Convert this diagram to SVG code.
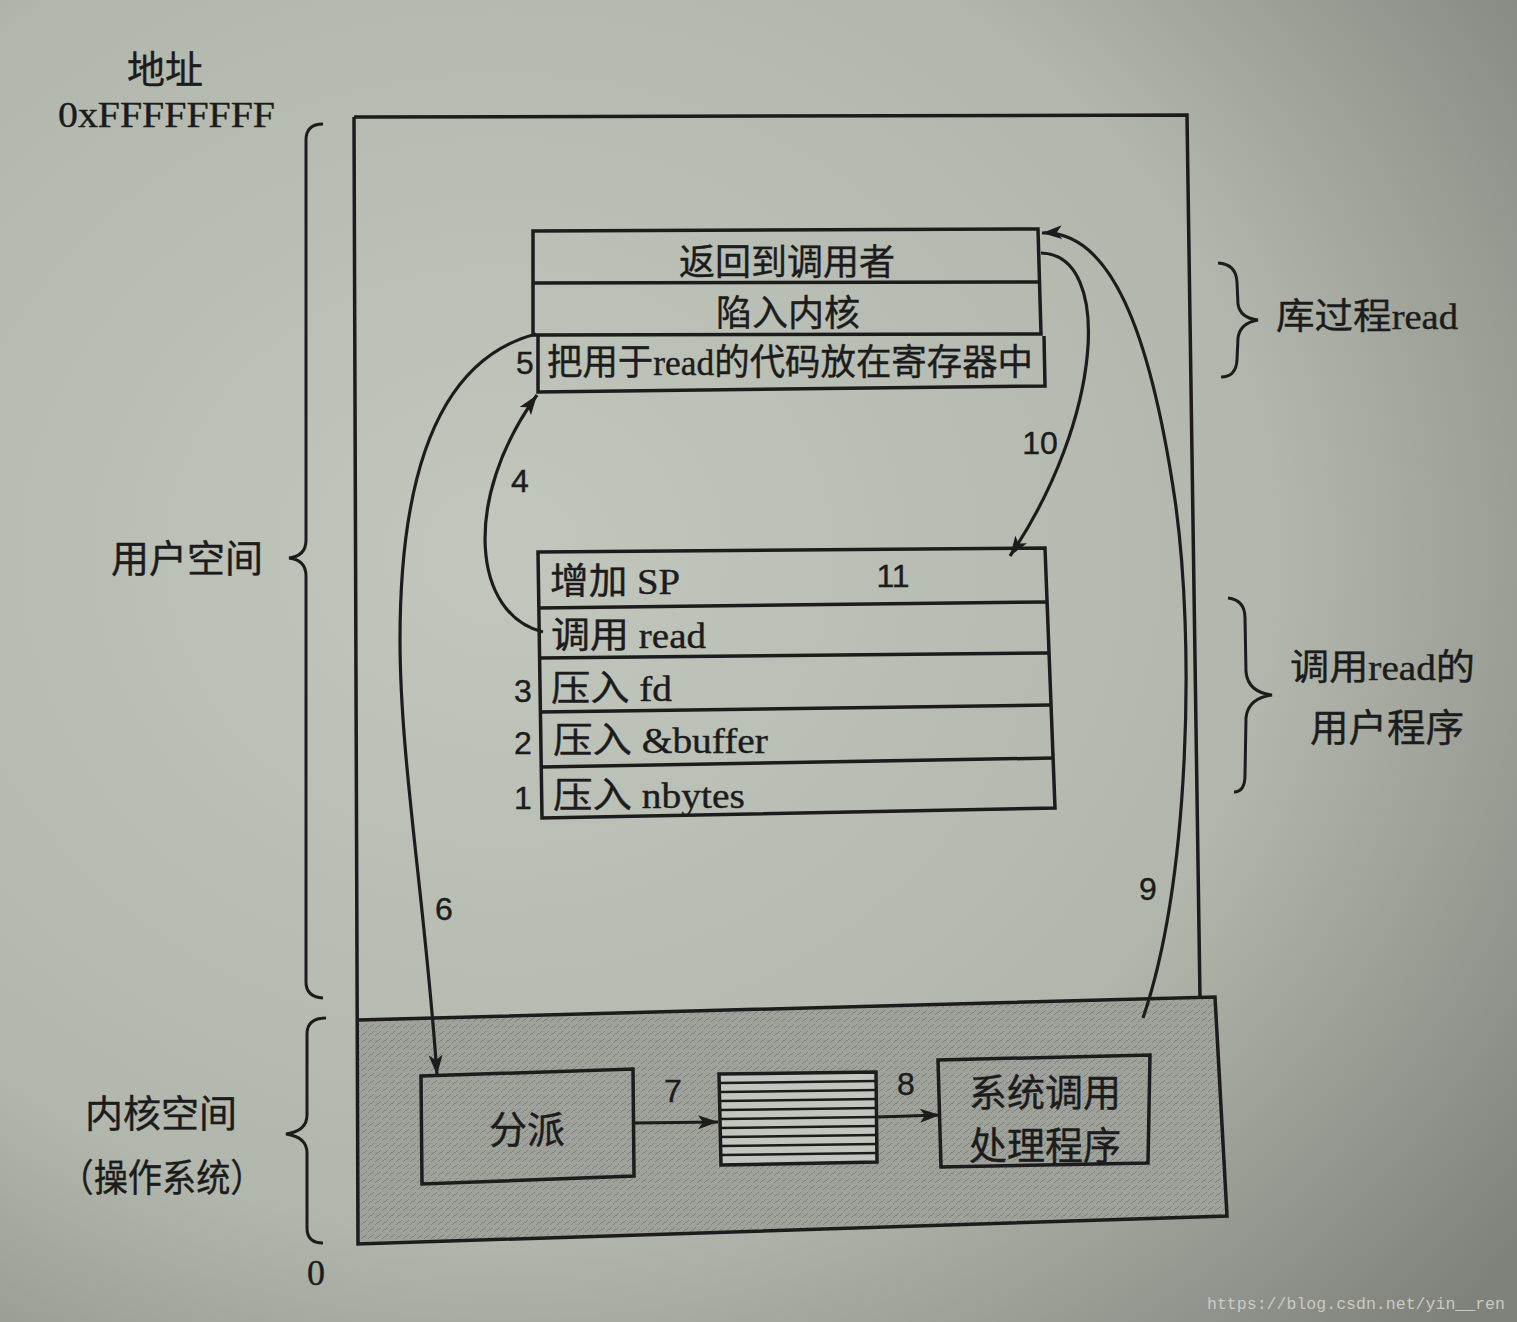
<svg xmlns="http://www.w3.org/2000/svg" width="1517" height="1322" viewBox="0 0 1517 1322">
<defs>
<radialGradient id="paper" cx="0.33" cy="0.42" r="0.85">
<stop offset="0" stop-color="#c2c7bd"/>
<stop offset="0.6" stop-color="#b2b7ad"/>
<stop offset="1" stop-color="#7f827b"/>
</radialGradient>
<pattern id="speck" width="7" height="7" patternUnits="userSpaceOnUse">
<rect width="7" height="7" fill="#9fa29b"/>
<path d="M0,5 L3,2 M4,7 L7,4" stroke="#6a6d67" stroke-width="1" opacity="0.6"/>
</pattern>
<marker id="ah" markerUnits="userSpaceOnUse" markerWidth="22" markerHeight="16" refX="20" refY="7" orient="auto">
<path d="M0,0 L20,7 L0,14 L5,7 z" fill="#1c1c1c"/>
</marker>
<style>
.ln{fill:none;stroke:#1c1c1c;stroke-width:3;stroke-linejoin:miter}
.bx{fill:none;stroke:#1c1c1c;stroke-width:3.5}
.t{font-family:"Liberation Serif","Noto Sans CJK SC",serif;font-size:36px;fill:#1c1c1c;stroke:#1c1c1c;stroke-width:0.4}
.lb{font-family:"Noto Sans CJK SC","Liberation Serif",sans-serif;font-size:38px;fill:#1c1c1c;stroke:#1c1c1c;stroke-width:0.4}
.n{font-family:"Liberation Sans","DejaVu Sans",sans-serif;font-size:32px;fill:#1c1c1c;stroke:#1c1c1c;stroke-width:0.4}
.c{text-anchor:middle}
.arr{fill:none;stroke:#1c1c1c;stroke-width:3.2;marker-end:url(#ah)}
</style>
</defs>
<rect width="1517" height="1322" fill="url(#paper)"/>

<g id="frame">
<polygon points="358,1020 1215,997 1227,1216 358,1244" fill="url(#speck)"/>
<path class="bx" d="M354,117 L1187,115 L1200,998"/>
<path class="bx" d="M354,117 L358,1244 L1227,1216 L1215,997 L358,1020"/>
</g>

<g id="side-labels">
<text class="lb c" x="165" y="83">地址</text>
<text class="t" x="58" y="127" font-size="38" textLength="217" lengthAdjust="spacingAndGlyphs">0xFFFFFFFF</text>
<text class="lb c" x="187" y="572">用户空间</text>
<text class="lb c" x="161" y="1127">内核空间</text>
<text class="lb c" x="162" y="1191" textLength="205" lengthAdjust="spacingAndGlyphs">（操作系统）</text>
<text class="t c" x="316" y="1285">0</text>
<path class="ln" stroke-width="2.5" d="M323,124 Q306,124 306,140 L306,540 Q306,556 289,558 Q306,560 306,576 L306,982 Q306,997 323,998"/>
<path class="ln" stroke-width="2.5" d="M326,1018 Q307,1018 307,1034 L307,1115 Q307,1131 286,1134 Q307,1137 307,1153 L307,1228 Q307,1243 323,1243"/>
</g>

<g id="lib-read">
<polygon class="bx" points="533,231 1038,229 1041,334 533,335"/>
<line class="bx" x1="533" y1="283" x2="1040" y2="282"/>
<path class="bx" d="M538,335 L538,392 L1045,386 L1044,336"/>
<text class="t c" x="787" y="275">返回到调用者</text>
<text class="t c" x="788" y="326">陷入内核</text>
<text class="t" x="547" y="375" textLength="486" lengthAdjust="spacingAndGlyphs">把用于read的代码放在寄存器中</text>
<text class="n c" x="525" y="374">5</text>
<path class="ln" stroke-width="2.5" d="M1218,263 Q1236,264 1237,282 L1238,304 Q1240,318 1258,320 Q1240,323 1238,338 L1237,360 Q1236,377 1221,377"/>
<text class="t" x="1276" y="329" textLength="182" lengthAdjust="spacingAndGlyphs">库过程read</text>
</g>

<g id="user-prog">
<polygon class="bx" points="538,552 1045,548 1055,808 542,818"/>
<line class="bx" x1="539" y1="608" x2="1047" y2="602"/>
<line class="bx" x1="540" y1="658" x2="1049" y2="653"/>
<line class="bx" x1="540" y1="712" x2="1051" y2="705"/>
<line class="bx" x1="541" y1="767" x2="1053" y2="758"/>
<text class="t" x="550" y="594" textLength="130" lengthAdjust="spacingAndGlyphs">增加 SP</text>
<text class="t" x="551" y="648" textLength="155" lengthAdjust="spacingAndGlyphs">调用 read</text>
<text class="t" x="551" y="701" textLength="121" lengthAdjust="spacingAndGlyphs">压入 fd</text>
<text class="t" x="553" y="753" textLength="215" lengthAdjust="spacingAndGlyphs">压入 &amp;buffer</text>
<text class="t" x="553" y="808" textLength="192" lengthAdjust="spacingAndGlyphs">压入 nbytes</text>
<text class="n c" x="523" y="702">3</text>
<text class="n c" x="523" y="754">2</text>
<text class="n c" x="523" y="809">1</text>
<path class="ln" stroke-width="2.5" d="M1228,598 Q1245,600 1245,618 L1246,672 Q1248,692 1272,695 Q1248,698 1246,718 L1245,775 Q1245,792 1234,792"/>
<text class="t" x="1290" y="680" textLength="185" lengthAdjust="spacingAndGlyphs">调用read的</text>
<text class="lb" x="1310" y="741" textLength="154" lengthAdjust="spacingAndGlyphs">用户程序</text>
</g>

<g id="dispatch">
<polygon class="bx" points="421,1076 633,1069 634,1176 422,1184"/>
<text class="lb c" x="527" y="1143">分派</text>
</g>

<g id="table">
<polygon points="719,1074 876,1072 877,1162 721,1165" fill="#c3c6be" stroke="#1c1c1c" stroke-width="3.5"/>
<path d="M720,1083 L876,1081 M720,1092 L876,1090 M720,1101 L876,1099 M720,1110 L876,1108 M720,1119 L876,1117 M720,1128 L876,1126 M720,1137 L876,1135 M721,1146 L877,1144 M721,1155 L877,1153" stroke="#1c1c1c" stroke-width="2.4"/>
</g>

<g id="handler">
<polygon class="bx" points="938,1060 1150,1055 1148,1163 941,1167"/>
<text class="lb c" x="1045" y="1106">系统调用</text>
<text class="lb c" x="1045" y="1159">处理程序</text>
</g>

<g id="connectors">
<path class="arr" d="M543,632 C473,615 461,500 537,395"/>
<path class="arr" d="M536,334 C455,355 400,440 400,640 C400,760 425,900 437,1075"/>
<path class="arr" stroke-width="4" d="M634,1123 L718,1122"/>
<path class="arr" stroke-width="4" d="M877,1117 L940,1115"/>
<path class="arr" d="M1143,1018 C1190,880 1195,640 1175,500 C1150,330 1110,230 1042,233"/>
<path class="arr" d="M1041,253 C1114,255 1102,420 1010,556"/>
<text class="n c" x="520" y="492">4</text>
<text class="n c" x="444" y="920">6</text>
<text class="n c" x="673" y="1102">7</text>
<text class="n c" x="906" y="1095">8</text>
<text class="n c" x="1148" y="900">9</text>
<text class="n c" x="1040" y="454">10</text>
<text class="n c" x="893" y="587">11</text>
</g>

<text x="1207" y="1309" font-family="Liberation Mono, monospace" font-size="17" fill="#c9cbc4" textLength="298" lengthAdjust="spacingAndGlyphs">https://blog.csdn.net/yin__ren</text>
</svg>
